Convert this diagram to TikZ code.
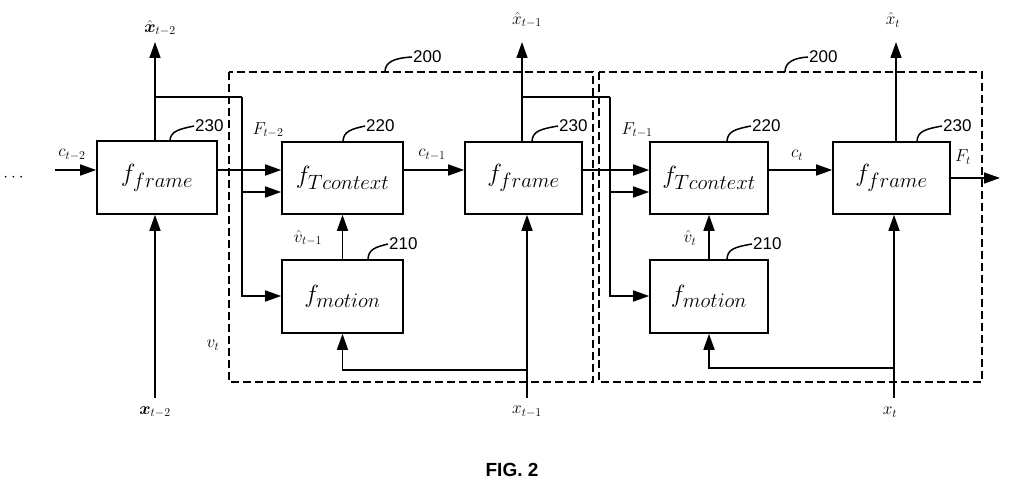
\documentclass[tikz,border=0pt]{standalone}
\usepackage{amsmath}
\usepackage{fontspec}
\setmainfont{Liberation Sans}
\usetikzlibrary{arrows.meta}
\begin{document}
\begin{tikzpicture}[x=1pt,y=-1pt,
  box/.style={draw,line width=1.6pt,minimum width=0pt,inner sep=0pt,font=\fontsize{29}{31}\selectfont},
  arr/.style={line width=1.5pt,-{Triangle[length=16pt,width=11pt]}},
  ln/.style={line width=1.5pt},
  dbox/.style={draw,line width=1.5pt,dash pattern=on 8pt off 4pt},
  lab/.style={font=\fontsize{18}{20}\selectfont},
  ref/.style={font=\fontsize{17}{19}\selectfont,anchor=west,inner sep=1pt},
  lead/.style={line width=1.5pt}]
\useasboundingbox (0,0) rectangle (1024,494);
% dashed boxes
\draw[dbox] (229,72) rectangle (593,382);
\draw[dbox] (599,72) rectangle (982,382);
% boxes
\node[box,minimum width=120pt,minimum height=73pt] (F1) at (157,177.5) {$f_{frame}$};
\node[box,minimum width=121pt,minimum height=72pt] (T1) at (342.5,178) {$f_{Tcontext}$};
\node[box,minimum width=121pt,minimum height=73pt] (M1) at (342.5,296.5) {$f_{motion}$};
\node[box,minimum width=117pt,minimum height=72pt] (F2) at (523.5,178) {$f_{frame}$};
\node[box,minimum width=118pt,minimum height=72pt] (T2) at (709,178) {$f_{Tcontext}$};
\node[box,minimum width=118pt,minimum height=73pt] (M2) at (709,296.5) {$f_{motion}$};
\node[box,minimum width=117pt,minimum height=72pt] (F3) at (891.5,178) {$f_{frame}$};
% coordinates
\coordinate (in0) at (55,170);
\node[lab] (dots) at (15,178) {$\cdots$};
\coordinate (xh2) at (155,42);
\coordinate (xh1) at (522,42);
\coordinate (xh0) at (896,42);
\coordinate (xb2) at (155,398);
\coordinate (xb1) at (527,398);
\coordinate (xb0) at (894,398);
\coordinate (out) at (1000,178);
% left input
\draw[arr] (in0) -- (in0 -| F1.west);
% F1 outputs
\draw[arr] (F1.east |- 0,170) -- (T1.west |- 0,170);
\draw[ln] (F1.north -| 155,0) -- (155,97);
\draw[arr] (155,141) -- (xh2);
\draw[ln] (155,97) -- (242,97);
\draw[arr] (242,97) |- (M1.west |- 0,296);
\draw[arr] (242,192) -- (T1.west |- 0,192);
\draw[arr] (M1.north) -- (T1.south);
\draw[arr] (xb2) -- (F1.south -| 155,0);
% T1 -> F2
\draw[arr] (T1.east |- 0,170) -- (F2.west |- 0,170);
% x_{t-1}
\draw[arr] (xb1) -- (F2.south -| 527,0);
\draw[arr] (527,370) -| (M1.south);
% F2 outputs
\draw[arr] (F2.north -| 522,0) -- (xh1);
\draw[ln] (522,97) -- (610,97);
\draw[arr] (610,97) |- (M2.west |- 0,296);
\draw[arr] (610,192) -- (T2.west |- 0,192);
\draw[arr] (F2.east |- 0,170) -- (T2.west |- 0,170);
\draw[arr] (M2.north) -- (T2.south);
\draw[arr] (T2.east |- 0,170) -- (F3.west |- 0,170);
% x_t
\draw[arr] (xb0) -- (F3.south -| 894,0);
\draw[arr] (894,368) -| (M2.south);
\draw[arr] (F3.north -| 896,0) -- (xh0);
\draw[arr] (F3.east |- out) -- (out);
% labels
\node[lab] (lx2) at (160,28) {$\hat{\boldsymbol{x}}_{t-2}$};
\node[lab] (lx1) at (527,20) {$\hat{x}_{t-1}$};
\node[lab] (lx0) at (893,20) {$\hat{x}_{t}$};
\node[lab] (bx2) at (155,412) {$\boldsymbol{x}_{t-2}$};
\node[lab] (bx1) at (527,412) {$x_{t-1}$};
\node[lab] (bx0) at (890,412) {$x_{t}$};
\node[lab] (c2) at (72,155) {$c_{t-2}$};
\node[lab] (c1) at (432,155) {$c_{t-1}$};
\node[lab] (c0) at (797,155) {$c_{t}$};
\node[lab] (f2) at (268,130) {$F_{t-2}$};
\node[lab] (f1) at (637,130) {$F_{t-1}$};
\node[lab] (f0) at (963,157) {$F_{t}$};
\node[lab] (v1) at (308,238) {$\hat{v}_{t-1}$};
\node[lab] (v0) at (690,238) {$\hat{v}_{t}$};
\node[lab] (vt) at (213,345) {$v_{t}$};
% reference numerals
\node[ref] (r230a) at (194,126) {230};
\draw[lead] (170,141) .. controls (170,131) and (180,129) .. (r230a.west);
\node[ref] (r220a) at (365,126) {220};
\draw[lead] (343,142) .. controls (343,131) and (352,129) .. (r220a.west);
\node[ref] (r210a) at (388,244) {210};
\draw[lead] (368,260) .. controls (368,249) and (376,247) .. (r210a.west);
\node[ref] (r230b) at (558,126) {230};
\draw[lead] (532,142) .. controls (532,131) and (541,129) .. (r230b.west);
\node[ref] (r220b) at (751,126) {220};
\draw[lead] (727,142) .. controls (727,131) and (736,129) .. (r220b.west);
\node[ref] (r210b) at (752,244) {210};
\draw[lead] (727,260) .. controls (727,249) and (735,247) .. (r210b.west);
\node[ref] (r230c) at (942,126) {230};
\draw[lead] (917,142) .. controls (917,131) and (926,129) .. (r230c.west);
\node[ref] (r200a) at (412,57) {200};
\draw[lead] (385,72) .. controls (385,62) and (394,58) .. (r200a.west);
\node[ref] (r200b) at (808,57) {200};
\draw[lead] (785,72) .. controls (785,62) and (794,58) .. (r200b.west);
\node[font=\fontsize{19}{21}\selectfont\bfseries] (fig) at (512,470) {FIG. 2};
\end{tikzpicture}
\end{document}
